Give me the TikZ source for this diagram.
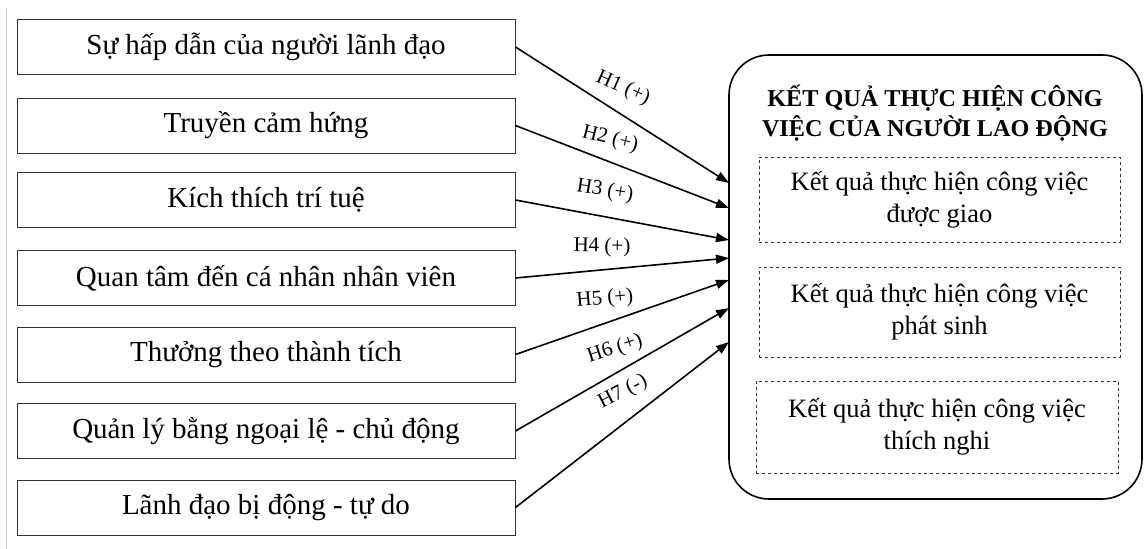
\documentclass[tikz,border=0pt]{standalone}
\usepackage{fontspec}
\setmainfont{Liberation Serif}
\usetikzlibrary{arrows.meta}
\begin{document}
\begin{tikzpicture}[x=1pt,y=-1pt,
  lbox/.style={draw=black!80, line width=0.9pt, minimum width=498pt, minimum height=55pt, inner sep=0pt, font=\fontsize{29}{34}\selectfont},
  dbox/.style={draw=black!80, dashed, line width=0.8pt, inner sep=0pt, align=center, font=\fontsize{26.5}{32}\selectfont},
  bigbox/.style={draw=black, line width=1.6pt, rounded corners=40pt, minimum width=413pt, minimum height=444pt, inner sep=0pt},
  hyp/.style={font=\fontsize{21}{24}\selectfont, inner sep=0pt},
  conn/.style={line width=1.6pt, -{Triangle[length=13pt,width=9pt]}}
]
\useasboundingbox (0,0) rectangle (1144,549);
\draw[black!18, line width=1pt] (6.5,8) -- (6.5,549);

\node[lbox] (b1) at (266,47) {Sự hấp dẫn của người lãnh đạo};
\node[lbox] (b2) at (266,125.5) {Truyền cảm hứng};
\node[lbox] (b3) at (266,200) {Kích thích trí tuệ};
\node[lbox] (b4) at (266,278) {Quan tâm đến cá nhân nhân viên};
\node[lbox] (b5) at (266,354.5) {Thưởng theo thành tích};
\node[lbox] (b6) at (266,431) {Quản lý bằng ngoại lệ - chủ động};
\node[lbox] (b7) at (266,507.5) {Lãnh đạo bị động - tự do};

\node[bigbox] (out) at (935.5,277) {};
\node[align=center, font=\bfseries\fontsize{24.2}{30}\selectfont] (title) at (935,113) {KẾT QUẢ THỰC HIỆN CÔNG\\VIỆC CỦA NGƯỜI LAO ĐỘNG};
\node[dbox, minimum width=361pt, minimum height=85pt] (d1) at (939.5,199.5) {Kết quả thực hiện công việc\\được giao};
\node[dbox, minimum width=361pt, minimum height=90pt] (d2) at (939.5,312) {Kết quả thực hiện công việc\\phát sinh};
\node[dbox, minimum width=362pt, minimum height=92pt] (d3) at (937,427) {Kết quả thực hiện công việc\\thích nghi};

\coordinate (e1) at (729,183);
\coordinate (e2) at (729,208);
\coordinate (e3) at (729,240);
\coordinate (e4) at (729,258);
\coordinate (e5) at (729,280);
\coordinate (e6) at (729,308);
\coordinate (e7) at (729,342);

\draw[conn] (b1.east) -- (e1);
\draw[conn] (b2.east) -- (e2);
\draw[conn] (b3.east) -- (e3);
\draw[conn] (b4.east) -- (e4);
\draw[conn] (b5.east) -- (e5);
\draw[conn] (b6.east) -- (e6);
\draw[conn] (b7.east) -- (e7);

\node[hyp, rotate=-24] (h1) at (623,88) {H1 (+)};
\node[hyp, rotate=-14] (h2) at (610,139) {H2 (+)};
\node[hyp, rotate=-9] (h3) at (605,191) {H3 (+)};
\node[hyp, rotate=-1] (h4) at (602,247) {H4 (+)};
\node[hyp, rotate=5] (h5) at (605,299) {H5 (+)};
\node[hyp, rotate=18] (h6) at (615,349) {H6 (+)};
\node[hyp, rotate=27] (h7) at (623,392) {H7 (-)};
\end{tikzpicture}
\end{document}
